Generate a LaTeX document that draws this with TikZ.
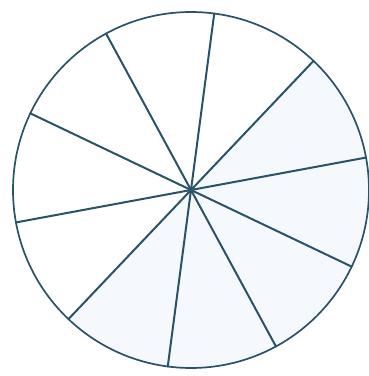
\documentclass[tikz,border=0pt]{standalone}
\usetikzlibrary{calc}

\definecolor{spokeink}{RGB}{42,82,104}
\definecolor{paletint}{RGB}{245,248,253}

\begin{document}
\begin{tikzpicture}[
        x=1pt,
        y=1pt,
        wheel rim/.style={line width=1.7pt,draw=spokeink},
        wheel spoke/.style={line width=2pt,draw=spokeink,line cap=round},
        tinted sector/.style={fill=paletint,draw=none}
    ]
        \useasboundingbox (0,0) rectangle (369,376);

        % Centre of the wheel and its radius.
        \coordinate (hub) at (191,186);
        \def\wheelradius{178}

        % The faint tint on the lower sectors.
        \fill[tinted sector]
            (hub) -- ($(hub)+(46.5:\wheelradius)$)
            arc [start angle=46.5,end angle=-133.5,radius=\wheelradius] -- cycle;

        % The rim.
        \draw[wheel rim] (hub) circle [radius=\wheelradius];

        % Ten equal sectors of 36 degrees each.
        \foreach \k in {0,...,9} {
            \coordinate (rim\k) at ($(hub)+({82.5-36*\k}:\wheelradius)$);
            \draw[wheel spoke] (hub) -- (rim\k);
        }
        \fill[spokeink] (hub) circle [radius=2.6];
    \end{tikzpicture}
\end{document}
